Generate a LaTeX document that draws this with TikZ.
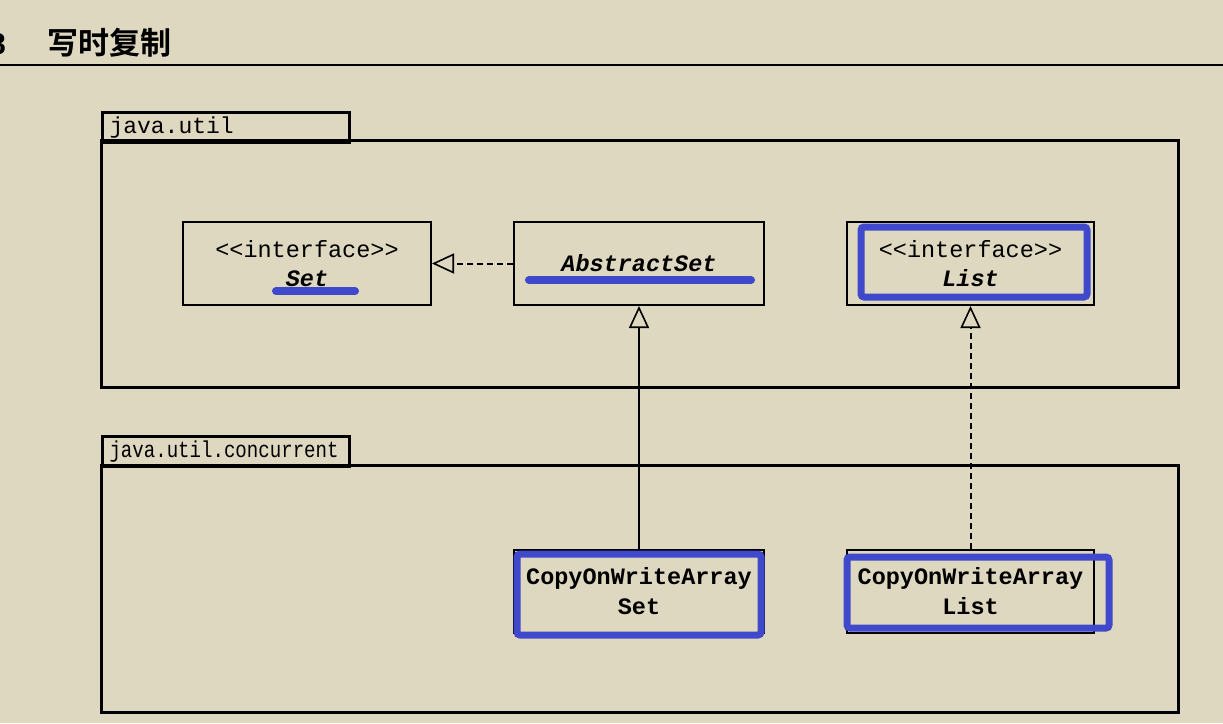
\documentclass[tikz,border=0pt]{standalone}
\usepackage{fontspec}
\setmonofont{Liberation Mono}
\newfontfamily\cjk{Noto Sans CJK SC}[BoldFont={* Bold}]
\newfontfamily\headsans{Liberation Sans}
\usetikzlibrary{arrows.meta}
\definecolor{paper}{RGB}{223,216,192}
\definecolor{mark}{RGB}{64,72,204}
\tikzset{
  classbox/.style={draw=black, line width=2pt, minimum width=248pt, minimum height=83pt,
    inner sep=0pt, align=center, font=\ttfamily\fontsize{23.5}{28.5}\selectfont},
  pkgframe/.style={draw=black, line width=3pt},
  pkgtab/.style={draw=black, line width=3pt, anchor=north west, minimum width=247pt,
    minimum height=30pt, inner sep=0pt, text width=233pt, align=left,
    font=\ttfamily\fontsize{23}{25}\selectfont},
  realize/.style={dashed, dash pattern=on 6pt off 4pt, line width=2pt,
    -{Triangle[open, length=22pt, width=20pt, line width=1.6pt]}},
  extend/.style={line width=1.8pt, -{Triangle[open, length=22pt, width=20pt, line width=1.6pt]}},
  hilite/.style={draw=mark, line width=7pt, rounded corners=3pt},
  hiline/.style={draw=mark, line width=8pt, line cap=round},
}
\begin{document}
\begin{tikzpicture}[x=1pt, y=-1pt]
  \fill[paper] (0,0) rectangle (1223,723);
  \useasboundingbox (0,0) rectangle (1223,723);

  % section heading
  \node[anchor=east, font=\headsans\bfseries\fontsize{30}{30}\selectfont, inner sep=0pt] (secnum) at (6,44) {8};
  \node[anchor=west, font=\cjk\bfseries\fontsize{31}{31}\selectfont, inner sep=0pt] (title) at (47,43) {写时复制};
  \draw[line width=2pt] (0,65) coordinate (rulel) -- (1223,65) coordinate (ruler);

  % package java.util
  \node[pkgtab] (tabutil) at (101,111) {java.util};
  \draw[pkgframe] (101,140) rectangle (1178,387);

  % package java.util.concurrent
  \node[pkgtab] (tabconc) at (101,435) {\scalebox{0.83}[1]{java.util.concurrent}};
  \draw[pkgframe] (101,465) rectangle (1178,712);

  % classes
  \node[classbox] (set) at (307,263.5) {<<interface>>\\\textbf{\textit{Set}}};
  \node[classbox, minimum width=250pt] (aset) at (639,263.5) {\textbf{\textit{AbstractSet}}};
  \node[classbox, minimum width=247pt] (list) at (970.5,263.5) {<<interface>>\\\textbf{\textit{List}}};
  \node[classbox, minimum width=250pt, font=\ttfamily\bfseries\fontsize{23.5}{30}\selectfont] (cowset) at (639,591.5) {CopyOnWriteArray\\Set};
  \node[classbox, minimum width=247pt, font=\ttfamily\bfseries\fontsize{23.5}{30}\selectfont] (cowlist) at (970.5,591.5) {CopyOnWriteArray\\List};

  % relations
  \draw[realize] (aset.west) -- (set.east);
  \draw[extend] (cowset.north) -- (aset.south);
  \draw[realize] (cowlist.north) -- (list.south);

  % blue highlights
  \draw[hiline] (276,291) coordinate (u1a) -- (355,291) coordinate (u1b);
  \draw[hiline] (529,280) coordinate (u2a) -- (751,280) coordinate (u2b);
  \draw[hilite] (861,227) rectangle (1087,297);
  \draw[hilite] (517,554) rectangle (761,635);
  \draw[hilite] (847,557) rectangle (1109,628);
\end{tikzpicture}
\end{document}
